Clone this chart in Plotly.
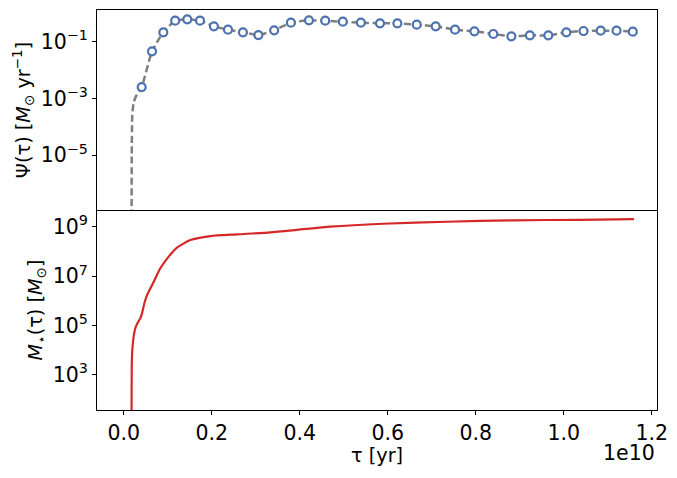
import plotly.graph_objects as go
from plotly.subplots import make_subplots

# --- Star-formation history: sampled points (open circles) ---
t_points = [4.09e8, 6.43e8, 9.00e8, 1.17e9, 1.445e9, 1.734e9, 2.05e9, 2.37e9, 2.71e9, 3.06e9,
            3.42e9, 3.80e9, 4.21e9, 4.58e9, 4.98e9, 5.39e9, 5.825e9, 6.22e9, 6.66e9, 7.09e9,
            7.53e9, 7.97e9, 8.40e9, 8.81e9, 9.23e9, 9.65e9, 1.006e10, 1.045e10, 1.084e10, 1.120e10,
            1.157e10]
psi_points = [2.5e-3, 0.045, 0.211, 0.54, 0.605, 0.54, 0.343, 0.26, 0.211, 0.169,
              0.248, 0.459, 0.557, 0.54, 0.498, 0.459, 0.437, 0.437, 0.391, 0.343,
              0.26, 0.229, 0.184, 0.152, 0.165, 0.165, 0.211, 0.234, 0.240, 0.240,
              0.221]

# --- Continuous SFH model (dashed line): onset section + sampled points ---
t_onset = [1.79e8, 1.80e8, 1.82e8, 1.95e8, 2.25e8, 2.80e8]
psi_onset = [1e-9, 1e-7, 1e-5, 2.6e-4, 7e-4, 1.2e-3]
t_line = t_onset + t_points
psi_line = psi_onset + psi_points

# --- Cumulative stellar mass ---
t_mass = [1.78e8, 1.80e8, 1.82e8, 1.90e8, 2.045e8, 2.30e8, 2.636e8, 3.20e8, 3.773e8, 4.159e8,
          4.70e8, 5.295e8, 6.818e8, 8.318e8, 1.023e9, 1.211e9, 1.514e9, 1.968e9, 2.575e9,
          3.332e9, 3.939e9, 4.695e9, 5.893e9, 7.341e9, 8.855e9, 1.037e10, 1.1598e10]
logm_mass = [1.0, 2.3, 3.13, 3.85, 4.21, 4.6, 4.89, 5.12, 5.29, 5.49,
             5.9, 6.23, 6.77, 7.32, 7.79, 8.15, 8.46, 8.62, 8.69,
             8.77, 8.87, 9.0, 9.12, 9.20, 9.26, 9.28, 9.31]
m_mass = [10 ** v for v in logm_mass]

# --- Tick labels ---
x_tickvals = [0, 2e9, 4e9, 6e9, 8e9, 1e10, 1.2e10]
x_ticktext = ["0.0", "0.2", "0.4", "0.6", "0.8", "1.0", "1.2"]
top_tickvals = [1e-5, 1e-3, 1e-1]
top_ticktext = ["10<sup>−5</sup>", "10<sup>−3</sup>", "10<sup>−1</sup>"]
bot_tickvals = [1e3, 1e5, 1e7, 1e9]
bot_ticktext = ["10<sup>3</sup>", "10<sup>5</sup>", "10<sup>7</sup>", "10<sup>9</sup>"]

FONT = "DejaVu Sans"
FS = 20.5
TFS = 19.3
fig = make_subplots(rows=2, cols=1, shared_xaxes=True, vertical_spacing=0)

fig.add_trace(go.Scatter(x=t_line, y=psi_line, mode="lines",
                         line=dict(color="#7f7f7f", width=2.5, dash="7px,3.5px",
                                   shape="spline", smoothing=0.5),
                         showlegend=False), row=1, col=1)
fig.add_trace(go.Scatter(x=t_points, y=psi_points, mode="markers",
                         marker=dict(symbol="circle", size=8, color="white",
                                     line=dict(color="#4c72b0", width=2.2)),
                         showlegend=False), row=1, col=1)
fig.add_trace(go.Scatter(x=t_mass, y=m_mass, mode="lines",
                         line=dict(color="#d62728", width=2.2, shape="spline", smoothing=0.6),
                         showlegend=False), row=2, col=1)

xr = [-6.07e8, 1.212e10]
base_axis = dict(showline=True, linecolor="black", linewidth=1,
                 showgrid=False, zeroline=False,
                 tickfont=dict(family=FONT, size=FS, color="black"))

fig.update_xaxes(range=xr, tickvals=x_tickvals, ticktext=x_ticktext,
                 ticks="outside", ticklen=4, tickcolor="black", mirror=False,
                 **base_axis, row=2, col=1)
fig.update_xaxes(range=xr, showticklabels=False, ticks="", mirror=True,
                 **base_axis, row=1, col=1)

fig.update_yaxes(type="log", range=[-6.93, 0.109], tickvals=top_tickvals, ticktext=top_ticktext,
                 ticks="outside", ticklen=4, tickcolor="black", mirror=True,
                 title=dict(text="Ψ(τ) [<i>M</i><sub>⊙</sub> yr<sup>−1</sup>]",
                            font=dict(family=FONT, size=TFS, color="black"), standoff=4),
                 domain=[0.5, 1.0], **base_axis, row=1, col=1)
fig.update_yaxes(type="log", range=[1.58, 9.676], tickvals=bot_tickvals, ticktext=bot_ticktext,
                 ticks="outside", ticklen=4, tickcolor="black", mirror=True,
                 title=dict(text="<i>M</i><sub>⋆</sub>(τ) [<i>M</i><sub>⊙</sub>]",
                            font=dict(family=FONT, size=TFS, color="black"), standoff=4),
                 domain=[0.0, 0.5], **base_axis, row=2, col=1)

fig.add_annotation(text="τ [yr]", xref="paper", yref="paper", x=0.5, y=0,
                   xanchor="center", yanchor="middle", yshift=-45, showarrow=False,
                   font=dict(family=FONT, size=TFS, color="black"))
fig.add_annotation(text="1e10", xref="paper", yref="paper", x=1.0, y=0,
                   xanchor="right", yanchor="middle", yshift=-43, showarrow=False,
                   font=dict(family=FONT, size=FS, color="black"))

fig.update_layout(width=677, height=478, margin=dict(l=97, r=20, t=10, b=68),
                  paper_bgcolor="white", plot_bgcolor="white",
                  font=dict(family=FONT, size=FS, color="black"))

fig.write_html("out.html")
